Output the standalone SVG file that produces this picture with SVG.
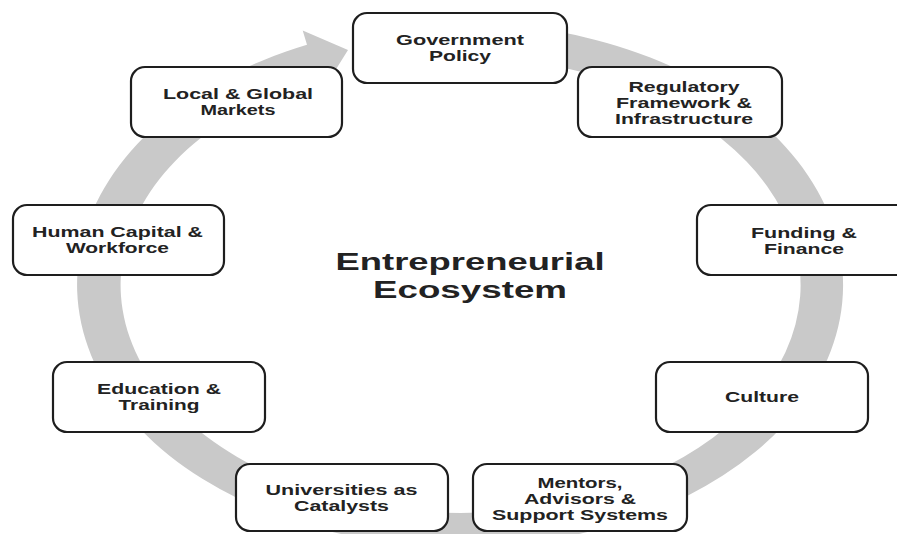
<svg xmlns="http://www.w3.org/2000/svg" width="897" height="534" viewBox="0 0 897 534">
<style>
.box{fill:#fff;stroke:#1e1e1e;stroke-width:2.2}
.t{font-family:"Liberation Sans",Arial,sans-serif;font-weight:bold;font-size:14.2px;fill:#222;text-anchor:middle}
.big{font-family:"Liberation Sans",Arial,sans-serif;font-weight:bold;font-size:24.8px;fill:#222;text-anchor:middle}
.ring{fill:#c9c9c9;stroke:none}
</style>
<rect width="897" height="534" fill="#fff"/>
<g id="connectors">
<path class="ring" d="M 420 24.4 A 383 262 0 1 1 307 44.8 L 302.7 30.4 L 348 50 L 321.3 92.7 L 317 78.3 A 340 228 0 1 0 420 58.6 Z"/>
</g>
<g id="center">
<text class="big" x="470" y="270" textLength="269" lengthAdjust="spacingAndGlyphs">Entrepreneurial</text>
<text class="big" x="470" y="298" textLength="194" lengthAdjust="spacingAndGlyphs">Ecosystem</text>
</g>
<g id="government-policy">
<rect class="box" x="353" y="13" width="214" height="70" rx="14"/>
<text class="t" x="460" y="45.4" textLength="128" lengthAdjust="spacingAndGlyphs">Government</text>
<text class="t" x="460" y="61.4" textLength="62" lengthAdjust="spacingAndGlyphs">Policy</text>
</g>
<g id="regulatory">
<rect class="box" x="578" y="67" width="204" height="70" rx="14"/>
<text class="t" x="684" y="91.5" textLength="111" lengthAdjust="spacingAndGlyphs">Regulatory</text>
<text class="t" x="684" y="107.5" textLength="136" lengthAdjust="spacingAndGlyphs">Framework &amp;</text>
<text class="t" x="684" y="123.5" textLength="138" lengthAdjust="spacingAndGlyphs">Infrastructure</text>
</g>
<g id="funding">
<rect class="box" x="697" y="205" width="214" height="70" rx="14"/>
<text class="t" x="804" y="238" textLength="106" lengthAdjust="spacingAndGlyphs">Funding &amp;</text>
<text class="t" x="804" y="254" textLength="80" lengthAdjust="spacingAndGlyphs">Finance</text>
</g>
<g id="culture">
<rect class="box" x="656" y="362" width="212" height="70" rx="14"/>
<text class="t" x="762" y="402" textLength="74" lengthAdjust="spacingAndGlyphs">Culture</text>
</g>
<g id="mentors">
<rect class="box" x="473" y="464" width="214" height="67" rx="14"/>
<text class="t" x="580" y="487.5" textLength="85" lengthAdjust="spacingAndGlyphs">Mentors,</text>
<text class="t" x="580" y="503.5" textLength="112" lengthAdjust="spacingAndGlyphs">Advisors &amp;</text>
<text class="t" x="580" y="519.5" textLength="176" lengthAdjust="spacingAndGlyphs">Support Systems</text>
</g>
<g id="universities">
<rect class="box" x="236" y="464" width="212" height="67" rx="14"/>
<text class="t" x="341.5" y="495" textLength="152" lengthAdjust="spacingAndGlyphs">Universities as</text>
<text class="t" x="341.5" y="511" textLength="95" lengthAdjust="spacingAndGlyphs">Catalysts</text>
</g>
<g id="education">
<rect class="box" x="53" y="362" width="212" height="70" rx="14"/>
<text class="t" x="159" y="393.8" textLength="124" lengthAdjust="spacingAndGlyphs">Education &amp;</text>
<text class="t" x="159" y="409.8" textLength="81" lengthAdjust="spacingAndGlyphs">Training</text>
</g>
<g id="human-capital">
<rect class="box" x="13" y="205" width="211" height="70" rx="14"/>
<text class="t" x="117.5" y="236.5" textLength="171" lengthAdjust="spacingAndGlyphs">Human Capital &amp;</text>
<text class="t" x="117.5" y="252.5" textLength="103" lengthAdjust="spacingAndGlyphs">Workforce</text>
</g>
<g id="markets">
<rect class="box" x="131" y="67" width="211" height="70" rx="14"/>
<text class="t" x="238" y="99" textLength="150" lengthAdjust="spacingAndGlyphs">Local &amp; Global</text>
<text class="t" x="238" y="115" textLength="75" lengthAdjust="spacingAndGlyphs">Markets</text>
</g>
</svg>
